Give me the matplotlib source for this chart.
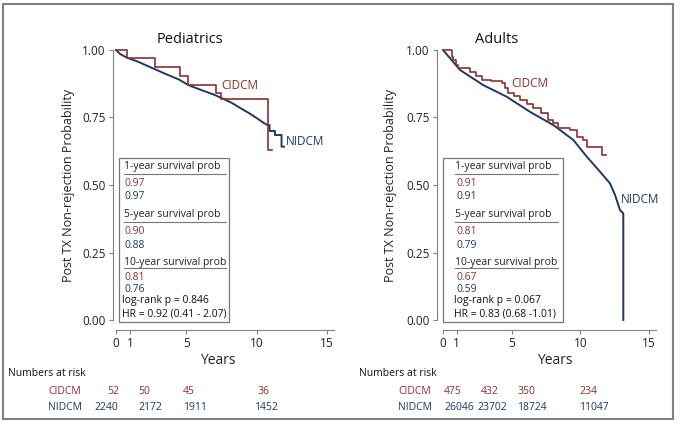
import matplotlib
matplotlib.use('Agg')
import matplotlib.pyplot as plt
from matplotlib.lines import Line2D
from matplotlib.patches import Rectangle

plt.rcParams['font.family'] = ['Open Sans', 'DejaVu Sans']

RED = '#8e2f2f'
BLUE = '#1e3866'
GRAY = '#808080'

# curves (years, probability)
ped_cidcm_t = [0, 0.76, 2.79, 4.56, 5.13, 7.09, 7.47, 10.83, 11.06]
ped_cidcm_s = [1.0, 0.969, 0.936, 0.902, 0.872, 0.842, 0.818, 0.631, 0.631]

ped_nidcm_t = [0, 0.3, 0.76, 1.5, 2.5, 3.5, 4.5, 5.15, 6.0, 7.0, 7.5, 8.2, 9.0,
               9.5, 10.0, 10.5, 10.76, 10.92, 10.92, 11.3, 11.3, 11.77, 11.77, 11.94]
ped_nidcm_s = [1.0, 0.985, 0.972, 0.958, 0.935, 0.912, 0.89, 0.870, 0.853, 0.834, 0.822,
               0.805, 0.780, 0.765, 0.748, 0.730, 0.722, 0.722, 0.70, 0.70, 0.685, 0.685,
               0.642, 0.642]

adu_cidcm_t = [0, 0.63, 0.75, 0.95, 1.11, 1.96, 2.4, 2.81, 3.5, 4.27, 4.5, 4.75, 5.2, 5.6,
               6.1, 6.57, 7.1, 7.66, 8.0, 8.39, 9.24, 9.73, 10.21, 10.46, 11.55, 11.86]
adu_cidcm_s = [1.0, 0.975, 0.963, 0.945, 0.932, 0.92, 0.905, 0.889, 0.884, 0.877, 0.86,
               0.84, 0.828, 0.815, 0.80, 0.784, 0.765, 0.741, 0.73, 0.71, 0.704, 0.679,
               0.667, 0.642, 0.611, 0.611]

adu_nidcm_t = [0, 1.24, 2.93, 4.63, 6.33, 8.03, 9.48, 10.46, 11.43, 12.15, 12.52, 12.88,
               13.12, 13.12]
adu_nidcm_s = [1.0, 0.926, 0.870, 0.827, 0.771, 0.722, 0.667, 0.605, 0.549, 0.506, 0.463,
               0.407, 0.395, 0.0]

ped_cidcm_label = (7.5, 0.87)
ped_nidcm_label = (12.1, 0.66)
adu_cidcm_label = (4.98, 0.877)
adu_nidcm_label = (12.95, 0.446)

ped_box_cidcm = ['0.97', '0.90', '0.81']
ped_box_nidcm = ['0.97', '0.88', '0.76']
adu_box_cidcm = ['0.91', '0.81', '0.67']
adu_box_nidcm = ['0.91', '0.79', '0.59']
box_headers = ['1-year survival prob', '5-year survival prob', '10-year survival prob']
ped_stats = ['log-rank p = 0.846', 'HR = 0.92 (0.41 - 2.07)']
adu_stats = ['log-rank p = 0.067', 'HR = 0.83 (0.68 -1.01)']

ped_risk_cidcm = [52, 50, 45, 36]
ped_risk_nidcm = [2240, 2172, 1911, 1452]
adu_risk_cidcm = [475, 432, 350, 234]
adu_risk_nidcm = [26046, 23702, 18724, 11047]

yticks = [0, 0.25, 0.5, 0.75, 1.0]
xticks = [0, 1, 5, 10, 15]

W, H = 680, 426
fig = plt.figure(figsize=(W / 100, H / 100), dpi=100)


def fx(x):
    return x / W


def fy(y):
    return 1 - y / H


def panel(left, width, left_out, title, title_x, ylab_x, xlab_x):
    ax = fig.add_axes([fx(left), fy(320), width / W, 270 / H])
    ax.set_xlim(0, 15.5)
    ax.set_ylim(0, 1)
    for s in ['top', 'right']:
        ax.spines[s].set_visible(False)
    ax.spines['left'].set_position(('outward', left_out))
    ax.spines['bottom'].set_position(('outward', 7))
    for s in ['left', 'bottom']:
        ax.spines[s].set_color(GRAY)
        ax.spines[s].set_linewidth(0.8)
    ax.set_yticks(yticks)
    ax.set_yticklabels(['%.2f' % v for v in yticks])
    ax.set_xticks(xticks)
    ax.tick_params(colors=GRAY, labelcolor='#222222', labelsize=8.5, length=3, width=0.8, pad=2)
    ax.set_title(title, x=title_x, pad=5, fontsize=10.5, color='#111111')
    ax.set_ylabel('Post TX Non-rejection Probability', fontsize=9, color='#222222')
    ax.yaxis.set_label_coords(ylab_x, 0.5)
    ax.set_xlabel('Years', fontsize=10, color='#222222')
    ax.xaxis.set_label_coords(xlab_x, -0.122)
    return ax


def curves(ax, ct, cs, nt, ns, clab, nlab):
    ax.plot(nt, ns, color=BLUE, lw=1.4, clip_on=False)
    ax.plot(ct, cs, color=RED, lw=1.2, drawstyle='steps-post', clip_on=False)
    ax.text(clab[0], clab[1], 'CIDCM', color=RED, fontsize=8.5, va='center', ha='left')
    ax.text(nlab[0], nlab[1], 'NIDCM', color=BLUE, fontsize=8.5, va='center', ha='left')


def inset(x0, x1, tx, nx, cvals, nvals, stats):
    fig.add_artist(Rectangle((fx(x0), fy(321.7)), (x1 - x0) / W, 163.4 / H,
                             transform=fig.transFigure, fill=False, ec='#777777', lw=0.9))
    head_y = [167, 215, 262]
    rule_y = [174, 222, 268]
    red_y = [183, 232, 278]
    blue_y = [196.5, 246, 289]
    for i in range(3):
        fig.text(fx(tx), fy(head_y[i]), box_headers[i], fontsize=7.5, va='center', color='#222222')
        fig.add_artist(Line2D([fx(tx), fx(tx + 102)], [fy(rule_y[i])] * 2,
                              transform=fig.transFigure, color='#777777', lw=0.8))
        fig.text(fx(nx), fy(red_y[i]), cvals[i], fontsize=7.5, va='center', color=RED)
        fig.text(fx(nx), fy(blue_y[i]), nvals[i], fontsize=7.5, va='center', color=BLUE)
    fig.text(fx(tx - 1), fy(300), stats[0], fontsize=7.5, va='center', color='#111111')
    fig.text(fx(tx - 1), fy(314), stats[1], fontsize=7.5, va='center', color='#111111')


def risk_table(x_title, x_name, cvals, nvals, cpos, npos):
    fig.text(fx(x_title), fy(373), 'Numbers at risk', fontsize=7.5, va='center', color='#111111')
    fig.text(fx(x_name), fy(392), 'CIDCM', fontsize=7.5, va='center', color=RED)
    fig.text(fx(x_name), fy(407), 'NIDCM', fontsize=7.5, va='center', color=BLUE)
    for v, p in zip(cvals, cpos):
        fig.text(fx(p), fy(392), str(v), fontsize=7.5, va='center', color=RED)
    for v, p in zip(nvals, npos):
        fig.text(fx(p), fy(407), str(v), fontsize=7.5, va='center', color=BLUE)


ax1 = panel(116, 218, 2.5, 'Pediatrics', 0.34, -0.188, 0.468)
curves(ax1, ped_cidcm_t, ped_cidcm_s, ped_nidcm_t, ped_nidcm_s, ped_cidcm_label, ped_nidcm_label)
inset(119.3, 229.3, 123.5, 124.5, ped_box_cidcm, ped_box_nidcm, ped_stats)
risk_table(8, 48, ped_risk_cidcm, ped_risk_nidcm, [107, 138, 183, 257], [94, 138, 183, 254])

ax2 = panel(443, 213, 4.5, 'Adults', 0.251, -0.216, 0.526)
curves(ax2, adu_cidcm_t, adu_cidcm_s, adu_nidcm_t, adu_nidcm_s, adu_cidcm_label, adu_nidcm_label)
inset(443.3, 562.7, 455.5, 456.5, adu_box_cidcm, adu_box_nidcm, adu_stats)
risk_table(359, 398, adu_risk_cidcm, adu_risk_nidcm, [444, 481, 518, 579], [444, 477, 517, 579])

# outer frame
fig.add_artist(Rectangle((fx(3), fy(419)), 670 / W, 415 / H, transform=fig.transFigure,
                         fill=False, ec=GRAY, lw=1.5))

fig.savefig('out.png', dpi=100, facecolor='white')
